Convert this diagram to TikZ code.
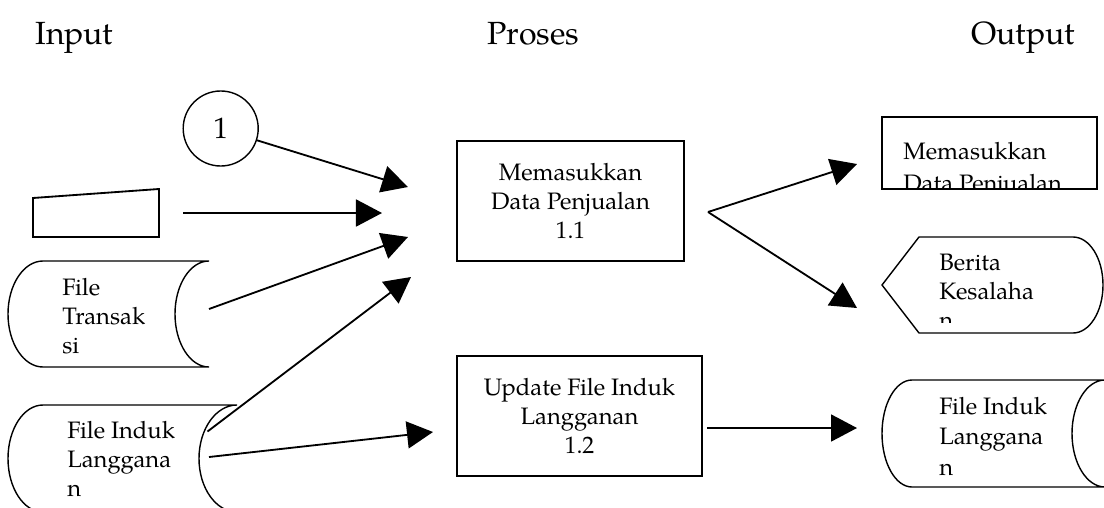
\documentclass[tikz,border=0pt]{standalone}
\usepackage{fontspec}
\setmainfont{TeX Gyre Pagella}
\usetikzlibrary{arrows.meta}
\newcommand{\bodyfont}{\fontsize{16.9}{20.6}\selectfont}
\newcommand{\headfont}{\fontsize{22.8}{26}\selectfont}

\begin{document}
\begin{tikzpicture}[x=0.025cm, y=0.025cm,
    head/.style={font=\headfont, anchor=base west, inner sep=0pt},
    proc/.style={draw, line width=1.3pt, align=center, inner sep=0pt, minimum height=3cm, font=\bodyfont},
    txt/.style={align=left, anchor=north west, inner sep=0pt, font=\bodyfont},
    file/.style={line width=1pt},
    arrow/.style={-{Triangle[length=0.65cm, width=0.675cm]}, line width=1.3pt}
]
\useasboundingbox (0,0) rectangle (1104,-507);
\node[head] (hin) at (35,-44) {Input};
\node[head] (hpr) at (487,-44) {Proses};
\node[head] (hout) at (971,-44) {Output};

\node[draw, circle, line width=1pt, minimum size=1.875cm, inner sep=0pt, font=\fontsize{21}{24}\selectfont] (c1) at (220.7,-128.5) {1};
\draw[line width=1.3pt] (33,-198) -- (159,-189) -- (159,-237) -- (33,-237) -- cycle;

\draw[file] (43,-261) -- (209,-261) arc[start angle=90, end angle=270, x radius=34, y radius=53] -- (43,-367) arc[start angle=270, end angle=90, x radius=35, y radius=53];
\node[txt] (ft) at (62,-278) {File\\Transak\\si};
\draw[file] (43,-405) -- (237,-405) arc[start angle=90, end angle=270, x radius=38, y radius=53.5] -- (43,-512) arc[start angle=270, end angle=90, x radius=35, y radius=53.5];
\node[txt] (fil) at (67,-421) {File Induk\\Langgana\\n};

\node[proc, minimum width=5.675cm] (p11) at (570.5,-201) {Memasukkan\\Data Penjualan\\1.1};
\node[proc, minimum width=6.125cm] (p12) at (579.5,-416) {Update File Induk\\Langganan\\1.2};

\node[draw, line width=1.3pt, minimum width=5.375cm, minimum height=1.8cm, inner sep=0pt] (mo) at (989.5,-153) {};
\begin{scope}
\clip (mo.south west) rectangle (mo.north east);
\node[txt, font=\fontsize{16.9}{22.4}\selectfont] (mot) at (903,-142) {Memasukkan\\Data Penjualan};
\end{scope}

\draw[file] (882,-285) -- (919,-237) -- (1073,-237) arc[start angle=90, end angle=-90, x radius=30, y radius=48] -- (919,-333) -- cycle;
\begin{scope}
\clip (900,-237) rectangle (1100,-322);
\node[txt] (bk) at (939,-254) {Berita\\Kesalaha\\n};
\end{scope}

\draw[file] (912,-380) -- (1105,-380) arc[start angle=90, end angle=270, x radius=33, y radius=53.5] -- (912,-487) arc[start angle=270, end angle=90, x radius=30, y radius=53.5];
\node[txt, font=\fontsize{16.9}{21.6}\selectfont] (fo) at (939,-397) {File Induk\\Langgana\\n};

\coordinate (a1) at (408,-187);
\coordinate (a2) at (382,-213);
\coordinate (mi0) at (183,-213);
\coordinate (ft0) at (209,-309);
\coordinate (a3) at (408,-237);
\coordinate (fil0) at (207.5,-431.5);
\coordinate (a4) at (411,-277);
\coordinate (fil1) at (209,-457);
\coordinate (a5) at (433,-432);
\coordinate (split) at (708,-212);
\coordinate (a6) at (857,-164);
\coordinate (a7) at (857,-308);
\coordinate (p120) at (707,-428);
\coordinate (a8) at (857,-428);
\draw[arrow] (c1.-18) -- (a1);
\draw[arrow] (mi0) -- (a2);
\draw[arrow] (ft0) -- (a3);
\draw[arrow] (fil0) -- (a4);
\draw[arrow] (fil1) -- (a5);
\draw[arrow] (split) -- (a6);
\draw[arrow] (split) -- (a7);
\draw[arrow] (p120) -- (a8);
\end{tikzpicture}
\end{document}
